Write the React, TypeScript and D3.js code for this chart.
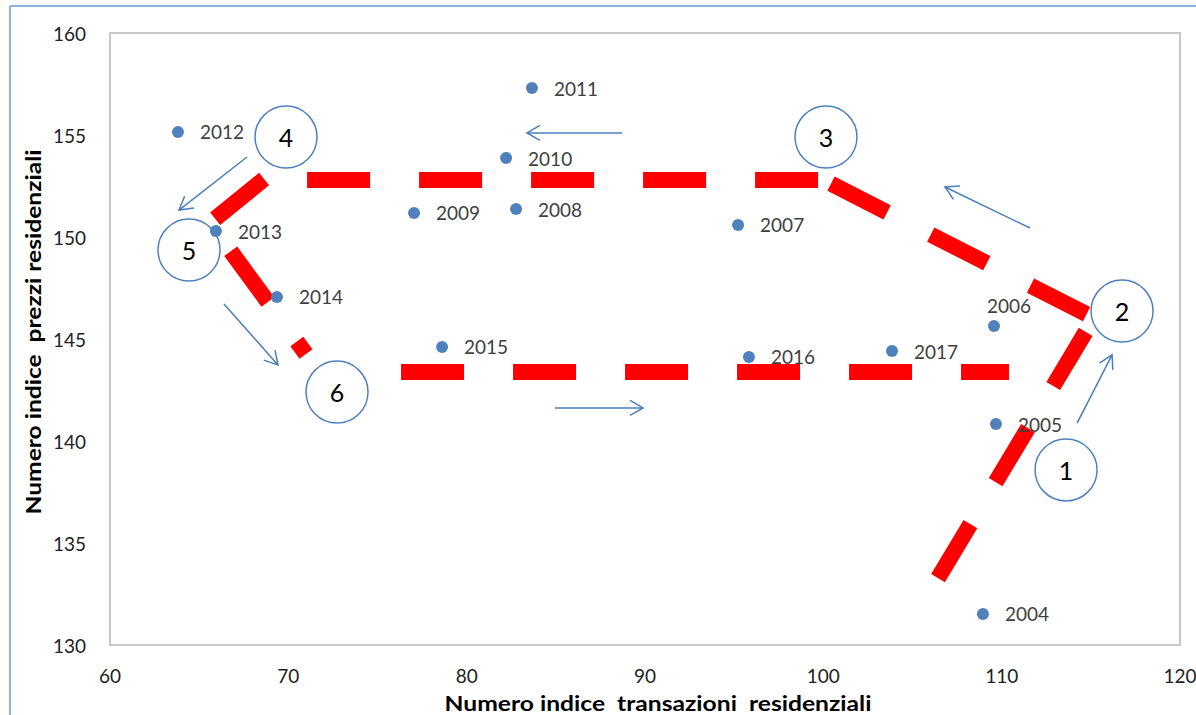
import React from "react";
import * as d3 from "d3";

// ---- data ----
const years = ["2004","2005","2006","2007","2008","2009","2010","2011","2012","2013","2014","2015","2016","2017"];
const transazioni = [108.95, 109.68, 109.57, 95.22, 82.77, 77.05, 82.21, 83.66, 63.81, 65.94, 69.36, 78.62, 95.83, 103.85];
const prezzi = [131.52, 140.83, 145.64, 150.59, 151.37, 151.18, 153.87, 157.3, 155.15, 150.29, 147.06, 144.61, 144.12, 144.41];
const xTicks = [60, 70, 80, 90, 100, 110, 120];
const yTicks = [130, 135, 140, 145, 150, 155, 160];

// phase circles
const phaseLabels = ["1", "2", "3", "4", "5", "6"];
const phaseX = [113.61, 116.75, 100.15, 69.87, 64.43, 72.73];
const phaseY = [138.58, 146.37, 154.9, 154.9, 149.36, 142.4];

// red dashed cycle legs
const legX0 = [106.43, 99.93, 68.64, 68.64, 65.61, 76.32];
const legY0 = [133.28, 152.84, 152.8, 152.84, 150.69, 143.38];
const legX1 = [115.18, 115.18, 99.93, 65.61, 70.99, 110.41];
const legY1 = [146.03, 146.03, 152.8, 150.69, 144.26, 143.38];

// blue arrows
const arrowX0 = [114.23, 111.59, 88.71, 67.68, 66.39, 84.95];
const arrowY0 = [140.88, 150.44, 155.1, 153.92, 146.72, 141.62];
const arrowX1 = [116.19, 106.82, 83.38, 63.87, 69.42, 89.89];
const arrowY1 = [144.22, 152.45, 155.1, 151.32, 143.73, 141.62];

// style: where first dash begins along each leg (px)
const legDashStart = [0, 10, 43, 0, 35, 0];

const W = 1196;
const H = 715;
const FONT = "Lato, 'Open Sans', sans-serif";

export default function App() {
  const x = d3.scaleLinear().domain([60, 120]).range([110, 1180]);
  const y = d3.scaleLinear().domain([130, 160]).range([645, 33]);
  const blue = "#4f81bd";

  const arrows = arrowX0.map((_, i) => {
    const x0 = x(arrowX0[i]), y0 = y(arrowY0[i]), x1 = x(arrowX1[i]), y1 = y(arrowY1[i]);
    const ang = Math.atan2(y0 - y1, x0 - x1);
    const L = 15, a = Math.PI / 6;
    const h1 = [x1 + L * Math.cos(ang + a), y1 + L * Math.sin(ang + a)];
    const h2 = [x1 + L * Math.cos(ang - a), y1 + L * Math.sin(ang - a)];
    return (
      <g key={"a" + i} stroke="#4a7ebb" strokeWidth={1.5} fill="none">
        <line x1={x0} y1={y0} x2={x1} y2={y1} />
        <polyline points={`${h1[0]},${h1[1]} ${x1},${y1} ${h2[0]},${h2[1]}`} />
      </g>
    );
  });

  return (
    <svg width={W} height={H} style={{ position: "absolute", left: 0, top: 0, background: "#fff" }} fontFamily={FONT}>
      <rect x={0} y={0} width={W} height={H} fill="#fff" />
      {/* outer chart border */}
      <line x1={10} y1={6} x2={W} y2={6} stroke="#8eb4dc" strokeWidth={2} />
      <line x1={10} y1={6} x2={10} y2={H} stroke="#8eb4dc" strokeWidth={2} />
      {/* plot area */}
      <rect x={110} y={33} width={1070} height={612} fill="none" stroke="#c8c8c8" strokeWidth={2} />

      {/* y ticks */}
      {yTicks.map((t) => (
        <text key={"y" + t} x={86} y={y(t)} textAnchor="end" dominantBaseline="central" fontSize={19} fill="#222">
          {t}
        </text>
      ))}
      {xTicks.map((t) => (
        <text key={"x" + t} x={x(t)} y={675} textAnchor="middle" dominantBaseline="central" fontSize={19} fill="#222">
          {t}
        </text>
      ))}
      {/* axis titles */}
      <text
        x={658}
        y={703}
        textAnchor="middle"
        dominantBaseline="central"
        fontSize={20}
        fontWeight="bold"
        fill="#000"
        textLength={427}
        lengthAdjust="spacingAndGlyphs"
        style={{ whiteSpace: "pre" }}
      >
        {"Numero indice  transazioni  residenziali"}
      </text>
      <text
        transform={`translate(33,332) rotate(-90)`}
        textAnchor="middle"
        dominantBaseline="central"
        fontSize={20}
        fontWeight="bold"
        fill="#000"
        textLength={365}
        lengthAdjust="spacingAndGlyphs"
        style={{ whiteSpace: "pre" }}
      >
        {"Numero indice  prezzi residenziali"}
      </text>

      {/* red dashed cycle */}
      {legX0.map((_, i) => (
        <line
          key={"l" + i}
          x1={x(legX0[i])}
          y1={y(legY0[i])}
          x2={x(legX1[i])}
          y2={y(legY1[i])}
          stroke="#ff0000"
          strokeWidth={16}
          strokeDasharray="63 49"
          strokeDashoffset={-legDashStart[i]}
          strokeLinecap="butt"
        />
      ))}

      {/* arrows */}
      {arrows}

      {/* phase circles */}
      {phaseLabels.map((p, i) => (
        <g key={"c" + i}>
          <circle cx={x(phaseX[i])} cy={y(phaseY[i])} r={31} fill="none" stroke={blue} strokeWidth={1.5} />
          <text x={x(phaseX[i])} y={y(phaseY[i])} textAnchor="middle" dominantBaseline="central" fontSize={25} fill="#000">
            {p}
          </text>
        </g>
      ))}

      {/* points */}
      {years.map((yr, i) => {
        const cx = x(transazioni[i]);
        const cy = y(prezzi[i]);
        const special = yr === "2006";
        return (
          <g key={yr}>
            <circle cx={cx} cy={cy} r={6} fill={blue} />
            <text
              x={special ? cx - 7 : cx + 22}
              y={special ? cy - 20 : cy}
              dominantBaseline="central"
              fontSize={19}
              fill="#404040"
            >
              {yr}
            </text>
          </g>
        );
      })}
    </svg>
  );
}
